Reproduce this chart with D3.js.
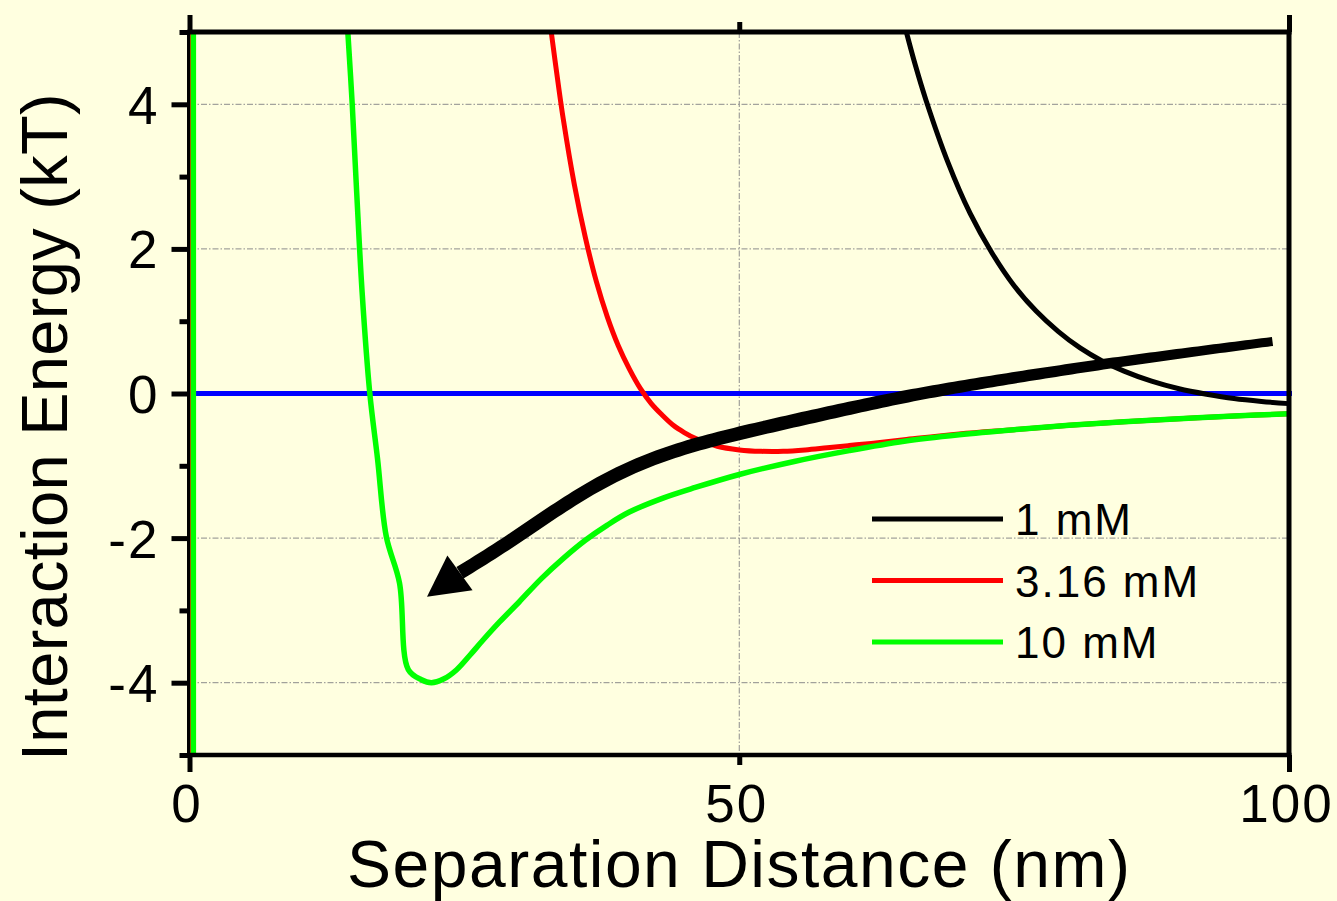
<!DOCTYPE html>
<html>
<head>
<meta charset="utf-8">
<script src="https://cdn.jsdelivr.net/npm/d3@7"></script>
<style>
  html, body { margin: 0; padding: 0; background: #ffffe0; }
  svg { display: block; }
  text { font-family: "Liberation Sans", Arial, Helvetica, sans-serif; fill: #000; }
</style>
</head>
<body>
<svg id="chart" width="1337" height="901"></svg>
<script>
// Interaction energy (kT) against separation distance (nm) at three salt concentrations.
// Each series has a near-contact branch at x≈0, then a gap (null) where the curve runs
// above the plotted range, then the long-range tail.
const dist1mM   = [0, 0, 30, 65.2, 66, 67, 69, 71, 73, 75, 77, 79, 81, 83, 85, 87.5, 90, 92.5, 95, 97.5, 100];
const energy1mM = [-5.5, 5.5, null, 5.0, 4.55, 4.05, 3.19, 2.49, 1.94, 1.49, 1.14, 0.86, 0.63, 0.45, 0.31, 0.17, 0.065, -0.01, -0.07, -0.11, -0.14];

const dist316mM   = [0, 0, 16, 32.9, 33.5, 34, 35, 36, 37, 38, 39, 40, 41, 42, 43, 44, 45, 46, 48, 50, 52, 54, 56, 58, 60, 62, 65, 70, 75, 80, 85, 90, 95, 100];
const energy316mM = [-5.5, 5.5, null, 5.0, 4.32, 3.79, 2.89, 2.16, 1.55, 1.06, 0.66, 0.34, 0.07, -0.14, -0.30, -0.44, -0.54, -0.62, -0.73, -0.78, -0.80, -0.80, -0.78, -0.75, -0.72, -0.69, -0.64, -0.56, -0.50, -0.44, -0.39, -0.35, -0.31, -0.28];

const dist10mM   = [0.35, 0.35, 7, 14.4, 14.8, 15.2, 15.7, 16.4, 17.1, 17.9, 19.1, 19.9, 21.1, 22.0, 23.1, 24.3, 25.5, 26.7, 28.2, 30, 32, 34, 36, 38, 40, 43, 46, 50, 55, 60, 65, 70, 75, 80, 85, 90, 95, 100];
const energy10mM = [-5.5, 5.5, null, 5.0, 4.0, 2.8, 1.4, 0.0, -0.9, -1.98, -2.62, -3.82, -3.96, -4.0, -3.95, -3.82, -3.62, -3.41, -3.16, -2.88, -2.56, -2.28, -2.03, -1.82, -1.64, -1.45, -1.30, -1.12, -0.94, -0.79, -0.66, -0.57, -0.50, -0.44, -0.39, -0.35, -0.31, -0.28];

const seriesLabels = ["1 mM", "3.16 mM", "10 mM"];
const seriesColors = ["#000000", "#ff0000", "#00ff00"];

// Guide arrow: path from the right towards the deepening secondary minimum (last point = tip).
const arrowDist   = [98.5, 81.9, 67.3, 61.0, 50.1, 42.8, 36.2, 29.4, 24.6, 21.6];
const arrowEnergy = [0.72, 0.39, 0.03, -0.17, -0.54, -0.83, -1.30, -2.03, -2.48, -2.81];

// Axis ticks
const xTickValues = [0, 50, 100];
const xLongTicks = [0, 100];
const yMajorTicks = [-4, -2, 0, 2, 4];
const yMinorTicks = [-5, -3, -1, 1, 3, 5];
const yGridValues = [-4, -2, 2, 4];
const xGridValues = [50];

const xTitle = "Separation Distance (nm)";
const yTitle = "Interaction Energy (kT)";

// ---- layout ----
const plotLeft = 189.5, plotRight = 1289, plotTop = 32, plotBottom = 755;

const svg = d3.select("#chart");
const x = d3.scaleLinear().domain([0, 100]).range([plotLeft, plotRight]);
const y = d3.scaleLinear().domain([-5, 5]).range([plotBottom, plotTop]);

svg.append("rect").attr("width", 1337).attr("height", 901).attr("fill", "#ffffe0");

svg.append("defs").append("clipPath").attr("id", "plotClip")
  .append("rect")
  .attr("x", plotLeft - 6).attr("y", plotTop)
  .attr("width", plotRight - plotLeft + 12).attr("height", plotBottom - plotTop);

// grid lines
const grid = svg.append("g").attr("stroke", "#8c8c8c").attr("stroke-width", 1)
  .attr("stroke-dasharray", "6,2,1.5,2");
grid.selectAll("line.h").data(yGridValues).join("line").attr("class", "h")
  .attr("x1", plotLeft).attr("x2", plotRight).attr("y1", d => y(d)).attr("y2", d => y(d));
grid.selectAll("line.v").data(xGridValues).join("line").attr("class", "v")
  .attr("x1", d => x(d)).attr("x2", d => x(d)).attr("y1", plotTop).attr("y2", plotBottom);

// zero line
svg.append("line")
  .attr("x1", x(0)).attr("x2", x(100) + 3)
  .attr("y1", y(0)).attr("y2", y(0))
  .attr("stroke", "#0000ff").attr("stroke-width", 5);

// curves
const seriesData = [
  d3.zip(dist1mM, energy1mM),
  d3.zip(dist316mM, energy316mM),
  d3.zip(dist10mM, energy10mM)
];
const seriesWidths = [5, 5, 5.5];
const curveLine = d3.line()
  .defined(d => d[1] !== null)
  .x(d => x(d[0])).y(d => y(d[1]))
  .curve(d3.curveCatmullRom.alpha(0.5));

const curves = svg.append("g").attr("clip-path", "url(#plotClip)");
curves.selectAll("path").data(seriesData).join("path")
  .attr("d", curveLine)
  .attr("fill", "none")
  .attr("stroke", (d, i) => seriesColors[i])
  .attr("stroke-width", (d, i) => seriesWidths[i])
  .attr("stroke-linejoin", "round");

// frame
const frame = svg.append("g").attr("stroke", "#000").attr("stroke-width", 5).attr("fill", "none");
frame.append("line").attr("x1", plotLeft - 2).attr("x2", plotRight + 2.5).attr("y1", plotTop).attr("y2", plotTop);
frame.append("line").attr("x1", plotLeft - 2).attr("x2", plotRight + 2.5).attr("y1", plotBottom).attr("y2", plotBottom).attr("stroke-width", 4.5);
frame.append("line").attr("x1", plotLeft - 1).attr("x2", plotLeft - 1).attr("y1", plotTop).attr("y2", plotBottom).attr("stroke-width", 3);
frame.append("line").attr("x1", plotRight).attr("x2", plotRight).attr("y1", plotTop).attr("y2", plotBottom);

// y axis ticks and labels
const yMajor = svg.append("g")
  .attr("transform", `translate(${plotLeft},0)`)
  .call(d3.axisLeft(y).tickValues(yMajorTicks).tickSize(18).tickPadding(12).tickFormat(d => String(d)));
const yMinor = svg.append("g")
  .attr("transform", `translate(${plotLeft},0)`)
  .call(d3.axisLeft(y).tickValues(yMinorTicks).tickSize(10).tickFormat(""));

// x axis ticks (bottom and top) and labels
const xBottom = svg.append("g")
  .attr("transform", `translate(0,${plotBottom})`)
  .call(d3.axisBottom(x).tickValues(xTickValues)
    .tickSizeInner(10).tickSizeOuter(0).tickPadding(19).tickFormat(d => String(d)));
xBottom.selectAll(".tick line").attr("y2", d => xLongTicks.includes(d) ? 17 : 10);

const xTop = svg.append("g")
  .attr("transform", `translate(0,${plotTop})`)
  .call(d3.axisTop(x).tickValues(xTickValues).tickSizeOuter(0).tickSizeInner(10).tickFormat(""));
xTop.selectAll(".tick line").attr("y2", d => xLongTicks.includes(d) ? -17 : -10);

[yMajor, yMinor, xBottom, xTop].forEach(g => {
  g.select(".domain").remove();
  g.selectAll(".tick line").attr("stroke", "#000").attr("stroke-width", 5);
  g.selectAll(".tick text")
    .style("font-family", '"Liberation Sans", Arial, sans-serif')
    .style("font-size", "53px")
    .style("letter-spacing", "2px")
    .attr("fill", "#000");
});
yMajor.selectAll(".tick text").attr("dy", "0.36em");
xBottom.selectAll(".tick text").attr("dx", "-3px");

// axis titles
svg.append("text")
  .attr("x", x(50)).attr("y", 887)
  .attr("text-anchor", "middle")
  .style("font-size", "66px")
  .style("letter-spacing", "1.5px")
  .text(xTitle);

svg.append("text")
  .attr("transform", "translate(67,427) rotate(-90)")
  .attr("text-anchor", "middle")
  .style("font-size", "65px")
  .style("letter-spacing", "0.3px")
  .text(yTitle);

// guide arrow: tapered shaft along a smooth path, then a triangular head
const arrowPts = d3.zip(arrowDist, arrowEnergy);
const shaftPts = arrowPts.slice(0, -1);
const shaftLine = d3.line().x(d => x(d[0])).y(d => y(d[1])).curve(d3.curveBasis);
const guide = svg.append("path").attr("d", shaftLine(shaftPts)).attr("fill", "none").attr("stroke", "none");
const gNode = guide.node();
const gLen = gNode.getTotalLength();
const steps = 160, wStart = 9, wEnd = 13.5;
const sideA = [], sideB = [];
for (let i = 0; i <= steps; i++) {
  const s = gLen * i / steps;
  const p = gNode.getPointAtLength(s);
  const q = gNode.getPointAtLength(Math.min(gLen, s + 1));
  const r = gNode.getPointAtLength(Math.max(0, s - 1));
  const dx = q.x - r.x, dy = q.y - r.y, dl = Math.hypot(dx, dy) || 1;
  const nx = -dy / dl, ny = dx / dl;
  const w = wStart + (wEnd - wStart) * Math.min(1, (i / steps) / 0.55);
  sideA.push([p.x + nx * w / 2, p.y + ny * w / 2]);
  sideB.push([p.x - nx * w / 2, p.y - ny * w / 2]);
}
guide.remove();
svg.append("path")
  .attr("d", "M" + sideA.map(p => p.join(",")).join("L") + "L" + sideB.reverse().map(p => p.join(",")).join("L") + "Z")
  .attr("fill", "#000");

const tip = arrowPts[arrowPts.length - 1];
const base = arrowPts[arrowPts.length - 2];
const tx = x(tip[0]), ty = y(tip[1]), bx = x(base[0]), by = y(base[1]);
const len = Math.hypot(tx - bx, ty - by);
const ux = (tx - bx) / len, uy = (ty - by) / len;
const halfW = 21.5;
svg.append("path")
  .attr("d", `M${tx},${ty}L${bx - uy * halfW},${by + ux * halfW}L${bx + uy * halfW},${by - ux * halfW}Z`)
  .attr("fill", "#000");

// legend
const legend = svg.append("g").attr("transform", "translate(872,519)");
const items = legend.selectAll("g").data(seriesLabels).join("g")
  .attr("transform", (d, i) => `translate(0,${i * 61.5})`);
items.append("line")
  .attr("x1", 0).attr("x2", 131).attr("y1", 0).attr("y2", 0)
  .attr("stroke", (d, i) => seriesColors[i]).attr("stroke-width", 5);
items.append("text")
  .attr("x", 143).attr("y", 16)
  .style("font-size", "44px")
  .style("letter-spacing", "2px")
  .text(d => d);
</script>
</body>
</html>
